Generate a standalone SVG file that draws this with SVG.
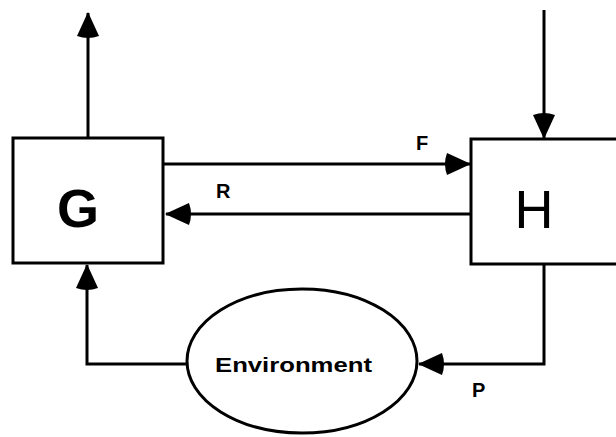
<svg xmlns="http://www.w3.org/2000/svg" width="616" height="437" viewBox="0 0 616 437">
<style>
.box{fill:#fff;stroke:#000;stroke-width:3}
.ln{fill:none;stroke:#000;stroke-width:3}
.big{font-family:"Liberation Sans",Arial,sans-serif;font-size:54px;fill:#000}
.lbl{font-family:"Liberation Sans",Arial,sans-serif;font-size:20px;font-weight:bold;fill:#000}
</style>
<defs>
<marker id="ah" viewBox="0 0 28 22" refX="27" refY="11" markerWidth="28" markerHeight="22" markerUnits="userSpaceOnUse" orient="auto">
<path d="M28,11 L4,0 Q0,11 4,22 Z" fill="#000"/>
</marker>
</defs>
<rect width="616" height="437" fill="#fff"/>
<g id="connectors">
<line class="ln" x1="88" y1="138" x2="88" y2="13" marker-end="url(#ah)"/>
<line class="ln" x1="544" y1="10" x2="544" y2="138" marker-end="url(#ah)"/>
<line class="ln" x1="163" y1="164" x2="470" y2="164" marker-end="url(#ah)"/>
<line class="ln" x1="471" y1="214" x2="166" y2="214" marker-end="url(#ah)"/>
<polyline class="ln" points="544,264 544,364 419,364" marker-end="url(#ah)"/>
<polyline class="ln" points="187,364 87,364 87,265" marker-end="url(#ah)"/>
<text class="lbl" x="416" y="150">F</text>
<text class="lbl" x="216" y="198">R</text>
<text class="lbl" x="472" y="397">P</text>
</g>
<g id="G">
<rect class="box" x="13" y="138" width="150" height="125"/>
<text class="big" x="78" y="227" text-anchor="middle" font-weight="bold">G</text>
</g>
<g id="H">
<rect class="box" x="471" y="139" width="150" height="125"/>
<text class="big" x="534" y="228" text-anchor="middle">H</text>
</g>
<g id="Environment">
<ellipse class="box" cx="302" cy="361" rx="115" ry="72"/>
<text class="lbl" x="215" y="372" textLength="157" lengthAdjust="spacingAndGlyphs">Environment</text>
</g>
</svg>
